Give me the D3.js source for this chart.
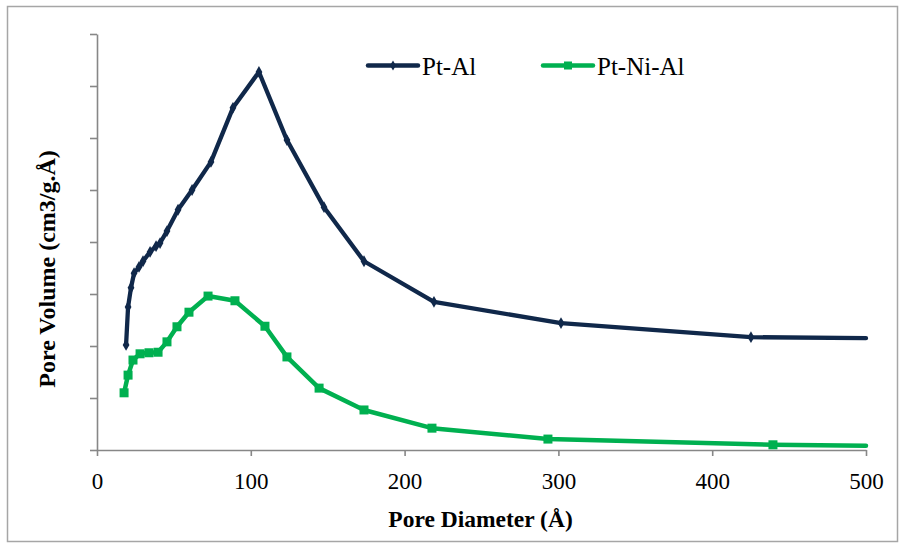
<!DOCTYPE html>
<html>
<head>
<meta charset="utf-8">
<script src="https://cdn.jsdelivr.net/npm/d3@7"></script>
<style>
  html, body { margin: 0; padding: 0; background: #fff; }
  svg { display: block; }
  text { font-family: "Liberation Serif", "Times New Roman", serif; fill: #000; }
</style>
</head>
<body>
<svg id="chart" width="899" height="543"></svg>
<script>
// Pore size distribution data (diameter in Å, pore volume in cm3/g.Å)
const ptAlDiameter = [18.9, 20.2, 22.1, 24.1, 27.3, 29.9, 34.5, 38.4, 41.0, 45.5, 52.7, 61.8, 74.1, 88.4, 105.3, 123.5, 147.6, 173.6, 219.1, 301.7, 425.2, 500];
const ptAlVolume   = [0.0202, 0.0275, 0.0312, 0.0340, 0.0352, 0.0363, 0.0381, 0.0392, 0.0398, 0.0421, 0.0462, 0.0500, 0.0554, 0.0658, 0.0727, 0.0596, 0.0467, 0.0363, 0.0285, 0.0244, 0.0217, 0.0215];

const ptNiAlDiameter = [17.6, 20.2, 23.4, 28.0, 33.8, 39.7, 45.5, 52.0, 59.8, 72.2, 89.7, 109.2, 123.5, 144.4, 173.6, 217.8, 293.2, 439.5, 500];
const ptNiAlVolume   = [0.0110, 0.0144, 0.0173, 0.0185, 0.0187, 0.0188, 0.0208, 0.0237, 0.0265, 0.0296, 0.0287, 0.0238, 0.0179, 0.0119, 0.0077, 0.0042, 0.0021, 0.0010, 0.0008];

const xTicks = [0, 100, 200, 300, 400, 500];
const yTicks = [0, 0.01, 0.02, 0.03, 0.04, 0.05, 0.06, 0.07, 0.08];

const seriesNames = ["Pt-Al", "Pt-Ni-Al"];
const navy = "#10284a";
const green = "#00b050";
const axisGray = "#878787";

const svg = d3.select("#chart");

// outer frame
svg.append("rect")
  .attr("x", 7.5).attr("y", 6.5)
  .attr("width", 890).attr("height", 535)
  .attr("fill", "none").attr("stroke", "#a6a6a6").attr("stroke-width", 1.5);

const plot = { left: 97, right: 866, top: 34, bottom: 450 };

const x = d3.scaleLinear().domain([0, 500]).range([plot.left, plot.right]);
const y = d3.scaleLinear().domain([0, 0.08]).range([plot.bottom, plot.top]);

// y axis: ticks only, no labels
const yAxis = svg.append("g")
  .attr("transform", `translate(${plot.left},0)`)
  .call(d3.axisLeft(y).tickValues(yTicks).tickSize(7).tickSizeOuter(0).tickFormat(""));
yAxis.select(".domain").attr("stroke", axisGray).attr("stroke-width", 1.6);
yAxis.selectAll(".tick line").attr("stroke", axisGray).attr("stroke-width", 1.6);

// x axis
const xAxis = svg.append("g")
  .attr("transform", `translate(0,${plot.bottom})`)
  .call(d3.axisBottom(x).tickValues(xTicks).tickSize(6).tickSizeOuter(0).tickFormat(d3.format("d")));
xAxis.select(".domain").attr("stroke", axisGray).attr("stroke-width", 1.6);
xAxis.selectAll(".tick line").attr("stroke", axisGray).attr("stroke-width", 1.6);
xAxis.selectAll(".tick text")
  .attr("y", 39).attr("dy", null)
  .attr("font-family", "Liberation Serif, Times New Roman, serif")
  .attr("font-size", 23).attr("fill", "#000");

// axis titles
svg.append("text")
  .attr("x", (plot.left + plot.right) / 2 - 1).attr("y", 527)
  .attr("text-anchor", "middle").attr("font-size", 23.5).attr("font-weight", "bold")
  .text("Pore Diameter (Å)");

svg.append("text")
  .attr("transform", "translate(55,269) rotate(-90)")
  .attr("text-anchor", "middle").attr("font-size", 24).attr("font-weight", "bold")
  .text("Pore Volume (cm3/g.Å)");

const line = d3.line().x(d => x(d[0])).y(d => y(d[1]));

const ptAl = d3.zip(ptAlDiameter, ptAlVolume);
const ptNiAl = d3.zip(ptNiAlDiameter, ptNiAlVolume);

// Pt-Ni-Al series
svg.append("path").datum(ptNiAl)
  .attr("d", line).attr("fill", "none")
  .attr("stroke", green).attr("stroke-width", 4.5)
  .attr("stroke-linejoin", "round").attr("stroke-linecap", "round");
svg.append("g").selectAll("rect").data(ptNiAl.slice(0, -1)).join("rect")
  .attr("x", d => x(d[0]) - 4.5).attr("y", d => y(d[1]) - 4.5)
  .attr("width", 9).attr("height", 9).attr("fill", green);

// Pt-Al series
svg.append("path").datum(ptAl)
  .attr("d", line).attr("fill", "none")
  .attr("stroke", navy).attr("stroke-width", 4.3)
  .attr("stroke-linejoin", "round").attr("stroke-linecap", "round");
svg.append("g").selectAll("path").data(ptAl.slice(0, -1)).join("path")
  .attr("transform", d => `translate(${x(d[0])},${y(d[1])})`)
  .attr("d", d3.symbol(d3.symbolDiamond, 40))
  .attr("fill", navy);

// legend
const legend = [
  { name: seriesNames[0], color: navy, x0: 368, marker: "diamond" },
  { name: seriesNames[1], color: green, x0: 543, marker: "square" }
];
const lg = svg.append("g");
legend.forEach(l => {
  lg.append("line")
    .attr("x1", l.x0).attr("x2", l.x0 + 50).attr("y1", 65.5).attr("y2", 65.5)
    .attr("stroke", l.color).attr("stroke-width", 4.5).attr("stroke-linecap", "round");
  if (l.marker === "square") {
    lg.append("rect").attr("x", l.x0 + 25 - 4).attr("y", 61.5).attr("width", 8).attr("height", 8).attr("fill", l.color);
  } else {
    lg.append("path").attr("transform", `translate(${l.x0 + 25},65.5)`)
      .attr("d", d3.symbol(d3.symbolDiamond, 30)).attr("fill", l.color);
  }
  lg.append("text")
    .attr("x", l.x0 + 54).attr("y", 75)
    .attr("font-size", 25).text(l.name);
});
</script>
</body>
</html>
